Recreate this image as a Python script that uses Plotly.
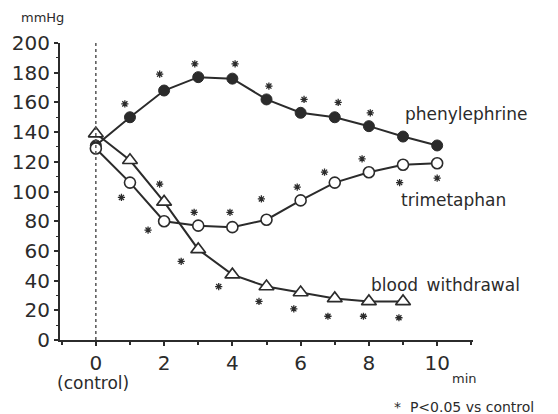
import plotly.graph_objects as go

# ---- data ----
time = [0, 1, 2, 3, 4, 5, 6, 7, 8, 9, 10]
phenylephrine = [131, 150, 168, 177, 176, 162, 153, 150, 144, 137, 131]
trimetaphan = [129, 106, 80, 77, 76, 81, 94, 106, 113, 118, 119]
blood_time = [0, 1, 2, 3, 4, 5, 6, 7, 8, 9]
blood_withdrawal = [139, 121, 93, 61, 44, 36, 32, 28, 26, 26]

# significance markers (P<0.05 vs control)
sig_phen_x = [0.85, 1.87, 2.9, 4.08, 5.07, 6.1, 7.1, 8.04]
sig_phen_y = [159, 179, 186, 186, 171, 162, 160, 153]
sig_trim_x = [0.75, 1.53, 2.88, 3.93, 4.85, 5.9, 6.7, 7.8, 8.9, 10.0]
sig_trim_y = [96, 74, 86, 86, 95, 103, 113, 122, 106, 109]
sig_blood_x = [1.87, 2.5, 3.6, 4.78, 5.8, 6.8, 7.84, 8.88]
sig_blood_y = [105, 53, 36, 26, 21, 16, 16, 15]

x_tick_vals = [0, 2, 4, 6, 8, 10]
x_tick_text = ["0", "2", "4", "6", "8", "10"]
y_tick_vals = [0, 20, 40, 60, 80, 100, 120, 140, 160, 180, 200]

INK = "#2b2b2b"
FONT = "DejaVu Sans"

fig = go.Figure()

fig.add_trace(go.Scatter(
    x=time, y=phenylephrine, mode="lines+markers",
    line=dict(color=INK, width=2),
    marker=dict(symbol="circle", size=11, color=INK, line=dict(color=INK, width=1)),
    showlegend=False, cliponaxis=False))

fig.add_trace(go.Scatter(
    x=time, y=trimetaphan, mode="lines+markers",
    line=dict(color=INK, width=2),
    marker=dict(symbol="circle", size=11, color="white", line=dict(color=INK, width=1.6)),
    showlegend=False, cliponaxis=False))

fig.add_trace(go.Scatter(
    x=blood_time, y=blood_withdrawal, mode="lines+markers",
    line=dict(color=INK, width=2),
    marker=dict(symbol="triangle-up", size=13, color="white", line=dict(color=INK, width=1.6)),
    showlegend=False, cliponaxis=False))

for sx, sy in [(sig_phen_x, sig_phen_y), (sig_trim_x, sig_trim_y), (sig_blood_x, sig_blood_y)]:
    fig.add_trace(go.Scatter(
        x=sx, y=sy, mode="markers",
        marker=dict(symbol="asterisk-open", size=6, color=INK, line=dict(color=INK, width=1.3)),
        showlegend=False, cliponaxis=False))

# vertical dotted control line
fig.add_shape(type="line", xref="x", yref="y", x0=0, x1=0, y0=0, y1=202,
              line=dict(color="#555555", width=1.5, dash="dot"))

ann = dict(showarrow=False, font=dict(family=FONT, size=17, color=INK))
fig.add_annotation(x=8.99, y=152, text="phenylephrine", xanchor="left", yanchor="middle", **ann)
fig.add_annotation(x=8.87, y=94, text="trimetaphan", xanchor="left", yanchor="middle", **ann)
fig.add_annotation(x=8.0, y=37, text="blood\u2002withdrawal", xanchor="left", yanchor="middle", **ann)
fig.add_annotation(xref="paper", yref="paper", x=0.081, y=-0.145, text="(control)",
                   xanchor="center", yanchor="middle", showarrow=False,
                   font=dict(family=FONT, size=17, color=INK))
fig.add_annotation(xref="paper", yref="paper", x=-0.1, y=1.087, text="mmHg",
                   xanchor="left", yanchor="middle", showarrow=False,
                   font=dict(family=FONT, size=13, color=INK))
fig.add_annotation(xref="paper", yref="paper", x=0.945, y=-0.13, text="min",
                   xanchor="left", yanchor="middle", showarrow=False,
                   font=dict(family=FONT, size=13, color=INK))
fig.add_annotation(xref="paper", yref="paper", x=0.805, y=-0.225,
                   text="*  P<0.05 vs control",
                   xanchor="left", yanchor="middle", showarrow=False,
                   font=dict(family=FONT, size=14, color=INK))

fig.update_xaxes(
    range=[-1.05, 11.05], tickvals=x_tick_vals, ticktext=x_tick_text,
    showgrid=False, zeroline=False, showline=True, linecolor=INK, linewidth=2,
    ticks="outside", ticklen=4, tickwidth=1.5, tickcolor=INK,
    minor=dict(dtick=1, tick0=0, ticks="outside", ticklen=3, tickcolor=INK, tickwidth=1.5),
    tickfont=dict(family=FONT, size=20, color=INK))
fig.update_yaxes(
    range=[0, 200], tickvals=y_tick_vals,
    showgrid=False, zeroline=False, showline=True, linecolor=INK, linewidth=2,
    ticks="outside", ticklen=4, tickwidth=1.5, tickcolor=INK,
    minor=dict(dtick=10, tick0=0, ticks="outside", ticklen=2, tickcolor=INK, tickwidth=1.2),
    tickfont=dict(family=FONT, size=20, color=INK))

fig.update_layout(
    width=558, height=414,
    margin=dict(l=54, r=85, t=43, b=74),
    paper_bgcolor="white", plot_bgcolor="white",
    font=dict(family=FONT, color=INK),
)

fig.write_html("out.html")
